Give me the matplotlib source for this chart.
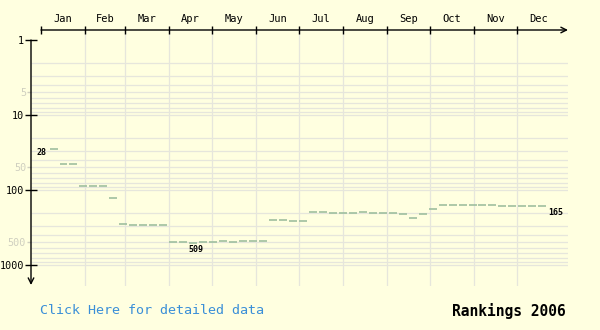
import matplotlib
matplotlib.use('Agg')
import matplotlib.pyplot as plt
from matplotlib.ticker import FixedLocator, FixedFormatter
import numpy as np

# weekly rankings for 2006 (first week starts on 7 Jan)
first_week_day = 6
ranks = [28, 45, 45, 88, 88, 88, 129, 287, 296, 296, 296, 296,
         493, 493, 509, 493, 493, 478, 493, 478, 478, 478,
         253, 253, 259, 259, 198, 198, 203, 203, 200, 198, 203, 205, 205,
         211, 234, 211, 181, 160, 160, 160, 160, 160, 160,
         165, 165, 165, 165, 165]
months = ['Jan', 'Feb', 'Mar', 'Apr', 'May', 'Jun',
          'Jul', 'Aug', 'Sep', 'Oct', 'Nov', 'Dec']
month_days = [31, 28, 31, 30, 31, 30, 31, 31, 30, 31, 30, 31]
major_ranks = [1, 10, 100, 1000]
minor_ranks = [5, 50, 500]

bg = '#ffffe0'
grid_c = '#e6e6dc'
line_c = '#9fbf9f'
mono = 'DejaVu Sans Mono'

fig = plt.figure(figsize=(6, 3.3), dpi=100, facecolor=bg)
ax = fig.add_axes([31 / 600, 44 / 330, 537 / 600, 256 / 330])
ax.set_facecolor(bg)
ax.set_yscale('log')
ax.set_xlim(-7.0, 369.8)
ax.set_ylim(1905, 0.735)
for s in ax.spines.values():
    s.set_visible(False)

month_start = np.concatenate([[0], np.cumsum(month_days)[:-1]])
month_mid = month_start + np.array(month_days) / 2.0

# grid
grid_vals = [m * 10 ** d for d in range(3) for m in range(2, 11)]
ax.hlines(grid_vals, -7.0, 369.8, colors=grid_c, lw=0.9, zorder=1)
for d in month_start[1:]:
    ax.axvline(d, color=grid_c, lw=0.9, zorder=1)

# axis lines with open arrows
ax.annotate('', xy=(369.8, 1), xytext=(0, 1),
            xycoords=('data', 'axes fraction'), textcoords=('data', 'axes fraction'),
            arrowprops=dict(arrowstyle='->', lw=1, color='black', shrinkA=0, shrinkB=0,
                            mutation_scale=10), annotation_clip=False)
ax.annotate('', xy=(0, 1848), xytext=(0, 1),
            xycoords=('axes fraction', 'data'), textcoords=('axes fraction', 'data'),
            arrowprops=dict(arrowstyle='->', lw=1, color='black', shrinkA=0, shrinkB=0,
                            mutation_scale=10), annotation_clip=False)

# x ticks on top
ax.xaxis.tick_top()
ax.set_xticks(month_start)
ax.set_xticklabels([])
ax.xaxis.set_minor_locator(FixedLocator(month_mid))
ax.xaxis.set_minor_formatter(FixedFormatter(months))
ax.tick_params(axis='x', which='major', direction='inout', length=6, width=1, top=True, bottom=False)
ax.tick_params(axis='x', which='minor', length=0, pad=4, labelsize=7.5, top=True, bottom=False,
               labeltop=True, labelbottom=False)
for t in ax.xaxis.get_minorticklabels():
    t.set_fontfamily(mono)

# y ticks
ax.yaxis.set_major_locator(FixedLocator(major_ranks))
ax.set_yticklabels([str(v) for v in major_ranks])
ax.yaxis.set_minor_locator(FixedLocator(minor_ranks))
ax.yaxis.set_minor_formatter(FixedFormatter([str(v) for v in minor_ranks]))
ax.tick_params(axis='y', which='major', direction='inout', length=9, width=1, pad=0.5,
               labelsize=7.3, labelcolor='black')
ax.tick_params(axis='y', which='minor', direction='out', length=3, width=1, pad=0.5,
               labelsize=7.3, labelcolor='#cfcfc0', color='#cfcfc0')
for t in ax.yaxis.get_majorticklabels() + ax.yaxis.get_minorticklabels():
    t.set_fontfamily(mono)

# weekly segments
starts = first_week_day + 7 * np.arange(len(ranks))
ax.hlines(ranks, starts, starts + 5.6, colors=line_c, lw=1.2, zorder=3)

# labels: first, worst, last
i0, iw, il = 0, int(np.argmax(ranks)), len(ranks) - 1
ax.annotate(str(ranks[i0]), (starts[i0], ranks[i0]), xytext=(-2, -3), textcoords='offset points',
            ha='right', va='center', fontsize=6, family=mono, fontweight='bold')
ax.annotate(str(ranks[iw]), (starts[iw] + 2.8, ranks[iw]), xytext=(2, -4.5), textcoords='offset points',
            ha='center', va='center', fontsize=6, family=mono, fontweight='bold')
ax.annotate(str(ranks[il]), (starts[il] + 5.6, ranks[il]), xytext=(1.5, -4.5), textcoords='offset points',
            ha='left', va='center', fontsize=6, family=mono, fontweight='bold')

fig.text(40 / 600, 1 - 311 / 330, 'Click Here for detailed data', color='#3a8fd8',
         fontsize=9.6, family=mono, ha='left', va='center')
fig.text(566 / 600, 1 - 311 / 330, 'Rankings 2006', color='black',
         fontsize=10.5, family=mono, fontweight='bold', ha='right', va='center')

fig.savefig('out.png', dpi=100, facecolor=bg)
